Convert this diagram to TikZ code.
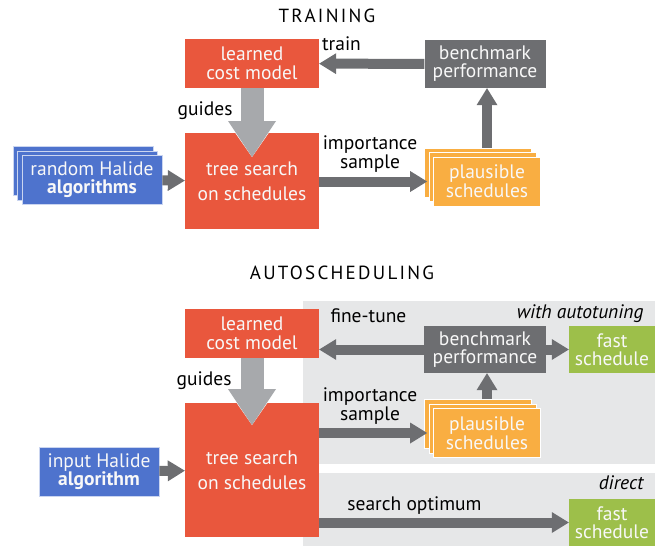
\documentclass[tikz,border=0pt]{standalone}
\usepackage{fontspec}
\setmainfont{PT Sans}
\newfontfamily\titlefont[LetterSpace=12]{PT Sans}
\usepackage{xcolor}
\usepackage{tikz}
\usetikzlibrary{arrows.meta,shadows}
\definecolor{costred}{HTML}{E9573D}
\definecolor{benchgray}{HTML}{6D6E71}
\definecolor{guidegray}{HTML}{A7A9AC}
\definecolor{algoblue}{HTML}{4E73CD}
\definecolor{plausorange}{HTML}{F9AE42}
\definecolor{fastgreen}{HTML}{9DBF4A}
\definecolor{panelgray}{HTML}{E6E7E8}
\definecolor{boxtext}{HTML}{F8F8F8}
\tikzset{
  box/.style={rectangle, inner sep=0pt, align=center, text=boxtext,
    font=\fontsize{19.5}{19}\selectfont},
  costbox/.style={box, fill=costred, minimum width=134pt, minimum height=49pt},
  treebox/.style={box, fill=costred, minimum width=134pt},
  benchbox/.style={box, fill=benchgray, minimum width=121pt, minimum height=48pt,
    font=\fontsize{19.5}{18}\selectfont},
  algobox/.style={box, fill=algoblue, draw=white!70!algoblue, line width=0.8pt,
    minimum height=49pt, font=\fontsize{19.5}{18}\selectfont},
  plausbox/.style={box, fill=plausorange, draw=white, line width=0.8pt,
    minimum width=107pt, minimum height=49pt,
    double copy shadow={shadow xshift=-4.5pt, shadow yshift=4.5pt}},
  fastbox/.style={box, fill=fastgreen, minimum width=86pt, minimum height=47pt,
    font=\fontsize{19.5}{18}\selectfont},
  titletext/.style={anchor=base, font=\titlefont\fontsize{19}{19}\selectfont},
  lbl/.style={text=black, font=\fontsize{19.5}{14}\selectfont},
  flow/.style={draw=benchgray, line width=10pt,
    -{Triangle[length=17pt, width=21pt, line width=0pt 0 0]}},
  guide/.style={draw=guidegray, line width=23pt,
    -{Triangle[length=36pt, width=48pt, line width=0pt 0 0]}},
  guidehalo/.style={draw=white, line width=26pt,
    -{Triangle[length=38pt, width=53pt, line width=0pt 0 0]}}
}
\begin{document}
\begin{tikzpicture}[x=1pt, y=-1pt]
  \useasboundingbox (0,0) rectangle (655,546);

  % grey panels behind the autoscheduling part
  \fill[panelgray] (303,301) rectangle (655,464);
  \fill[panelgray] (303,473) rectangle (655,546);

  % training
  \node[titletext] (ttrain) at (327,22) {TRAINING};
  \node[costbox] (cost1) at (252,63.5) {learned\\cost model};
  \node[benchbox] (bench1) at (485,64) {benchmark\\performance};
  \node[treebox, minimum height=96pt] (tree1) at (252,181) {tree search\\[6pt]on schedules};
  \node[algobox, minimum width=140pt,
    double copy shadow={shadow xshift=-4.5pt, shadow yshift=4.5pt}] (algo1) at (92,180)
    {random Halide\\\textbf{algorithms}};
  \node[plausbox] (plaus1) at (487,181.5) {plausible\\schedules};
  \coordinate (g1) at (252,157);

  \draw[flow] (bench1) -- (cost1);
  \draw[guidehalo] (cost1) -- (g1);
  \draw[guide] (cost1) -- (g1);
  \draw[flow] (algo1) -- (tree1);
  \draw[flow, shorten >=6pt] (tree1.east |- plaus1.west) -- (plaus1.west);
  \draw[flow] ([yshift=9pt]plaus1.north) -- (plaus1.north |- bench1.south);

  \node[lbl, anchor=base] (ltrain) at (341.5,50) {train};
  \node[lbl, anchor=base east] (lguide1) at (236,115) {guides};
  \node[lbl, align=center] (limp1) at (370,154) {importance\\sample};

  % autoscheduling
  \node[titletext] (tauto) at (342,279) {AUTOSCHEDULING};
  \node[costbox] (cost2) at (252,333.5) {learned\\cost model};
  \node[benchbox, minimum width=122pt, minimum height=47pt] (bench2) at (485,349.5)
    {benchmark\\performance};
  \node[fastbox] (fast2a) at (612,349.5) {fast\\schedule};
  \node[treebox, minimum height=134pt] (tree2) at (252,470) {tree search\\[6pt]on schedules};
  \node[algobox, minimum width=120pt] (algo2) at (99,471.5) {input Halide\\\textbf{algorithm}};
  \node[plausbox] (plaus2) at (487,433) {plausible\\schedules};
  \node[fastbox] (fast2b) at (612,522.5) {fast\\schedule};
  \coordinate (g2) at (252,425);

  \draw[flow] (bench2) -- (bench2 -| cost2.east);
  \draw[flow] (bench2) -- (fast2a);
  \draw[flow] ([yshift=9pt]plaus2.north) -- (plaus2.north |- bench2.south);
  \draw[guidehalo] (cost2) -- (g2);
  \draw[guide] (cost2) -- (g2);
  \draw[flow] (algo2) -- (tree2);
  \draw[flow, shorten >=6pt] (tree2.east |- plaus2.west) -- (plaus2.west);
  \draw[flow] (tree2.east |- fast2b.west) -- (fast2b.west);

  \node[lbl, anchor=base west] (ltune) at (327,322) {fine-tune};
  \node[lbl, anchor=base east, font=\fontsize{19.5}{14}\selectfont\itshape] (lauto) at (647,318)
    {with autotuning};
  \node[lbl, anchor=base east] (lguide2) at (235,385) {guides};
  \node[lbl, align=center] (limp2) at (370,406) {importance\\sample};
  \node[lbl, anchor=base east, font=\fontsize{19.5}{14}\selectfont\itshape] (ldirect) at (647,489)
    {direct};
  \node[lbl, anchor=base] (lopt) at (414.5,510) {search optimum};
\end{tikzpicture}
\end{document}
